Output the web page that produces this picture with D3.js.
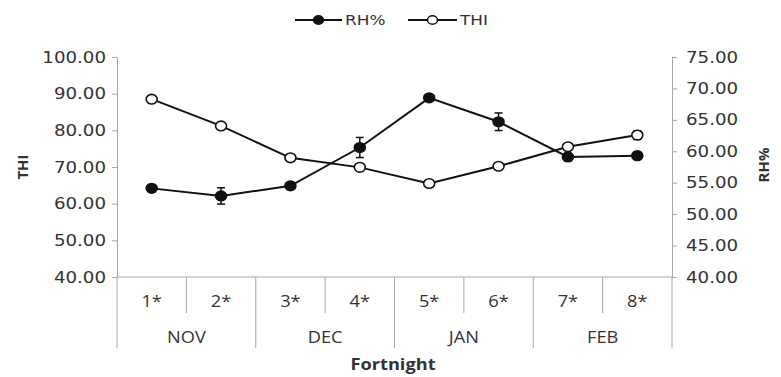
<!DOCTYPE html>
<html>
<head>
<meta charset="utf-8">
<script src="https://cdn.jsdelivr.net/npm/d3@7"></script>
<style>
  body { margin: 0; background: #fff; }
  svg { display: block; }
  text { fill: #333; }
</style>
</head>
<body>
<svg id="chart" width="781" height="377"></svg>
<script>
const fortnights = ["1*", "2*", "3*", "4*", "5*", "6*", "7*", "8*"];
const months = ["NOV", "DEC", "JAN", "FEB"];
const rhValues = [54.1, 52.9, 54.5, 60.6, 68.5, 64.7, 59.1, 59.3];
const rhErrors = [0.3, 1.3, 0.4, 1.6, 0.5, 1.4, 0.6, 0.6];
const thiValues = [88.5, 81.2, 72.5, 69.9, 65.5, 70.2, 75.5, 78.7];
const thiErrors = [0.3, 0.9, 0.3, 0.4, 0.3, 0.4, 0.6, 1.2];
const thiTicks = [40, 50, 60, 70, 80, 90, 100];
const rhTicks = [40, 45, 50, 55, 60, 65, 70, 75];

const plotLeft = 117, plotRight = 672, plotTop = 57, plotBottom = 277;
const stretch = 1.14;
const axisColor = "#a6a6a6";
const numFont = "DejaVu Sans, Verdana, sans-serif";
const labFont = "Open Sans, Liberation Sans, sans-serif";

const svg = d3.select("#chart");

let x = d3.scaleBand().domain(fortnights).range([plotLeft, plotRight]);
let xm = d3.scaleBand().domain(months).range([plotLeft, plotRight]);
let yThi = d3.scaleLinear().domain([40, 100]).range([plotBottom, plotTop]);
let yRh = d3.scaleLinear().domain([40, 75]).range([plotBottom, plotTop]);
let fmt = d3.format(".2f");

// y axes
function styleAxis(g) {
  g.select(".domain").attr("stroke", axisColor);
  g.selectAll(".tick line").attr("stroke", axisColor);
  g.selectAll(".tick text")
    .attr("fill", "#333")
    .style("font-family", numFont)
    .style("font-size", "16px")
    .attr("transform", `scale(${stretch},1)`);
}

svg.append("g")
  .attr("transform", `translate(${plotLeft},0)`)
  .call(d3.axisLeft(yThi).tickValues(thiTicks).tickFormat(fmt).tickSize(5).tickSizeOuter(0).tickPadding(4.6))
  .call(styleAxis);

svg.append("g")
  .attr("transform", `translate(${plotRight},0)`)
  .call(d3.axisRight(yRh).tickValues(rhTicks).tickFormat(fmt).tickSize(5).tickSizeOuter(0).tickPadding(7.3))
  .call(styleAxis);

// category axis: baseline and separators
svg.append("line")
  .attr("x1", plotLeft).attr("x2", plotRight)
  .attr("y1", plotBottom).attr("y2", plotBottom)
  .attr("stroke", axisColor);

let bounds = fortnights.map((f) => x(f)).concat([x.range()[1]]);
bounds.forEach((bx, i) => {
  svg.append("line")
    .attr("x1", bx).attr("x2", bx)
    .attr("y1", plotBottom).attr("y2", i % 2 === 0 ? 348 : 313)
    .attr("stroke", axisColor);
});

function label(px, py, txt, size, bold) {
  return svg.append("text")
    .attr("transform", `translate(${px},${py}) scale(${stretch},1)`)
    .attr("text-anchor", "middle")
    .style("font-family", labFont)
    .style("font-size", size + "px")
    .style("font-weight", bold ? "bold" : "normal")
    .text(txt);
}

fortnights.forEach((d) => label(x(d) + x.bandwidth() / 2, 307, d, 16, false));
months.forEach((d) => label(xm(d) + xm.bandwidth() / 2, 343, d, 16, false));
label(393, 370, "Fortnight", 16, true);

svg.append("text")
  .attr("transform", "translate(28,167) rotate(-90)")
  .attr("text-anchor", "middle")
  .style("font-family", labFont)
  .style("font-size", "15px")
  .style("font-weight", "bold")
  .text("THI");

svg.append("text")
  .attr("transform", "translate(769,165) rotate(-90)")
  .attr("text-anchor", "middle")
  .style("font-family", labFont)
  .style("font-size", "15px")
  .style("font-weight", "bold")
  .text("RH%");

// series
const cx = (i) => x(fortnights[i]) + x.bandwidth() / 2;

function drawSeries(values, errors, y, filled) {
  let line = d3.line().x((d, i) => cx(i)).y((d) => y(d));
  svg.append("path")
    .attr("d", line(values))
    .attr("fill", "none")
    .attr("stroke", "#111")
    .attr("stroke-width", 2);

  let eb = svg.append("g").attr("stroke", "#111").attr("stroke-width", 1.5);
  values.forEach((v, i) => {
    let y1 = y(v - errors[i]), y2 = y(v + errors[i]);
    eb.append("line").attr("x1", cx(i)).attr("x2", cx(i)).attr("y1", y1).attr("y2", y2);
    eb.append("line").attr("x1", cx(i) - 4).attr("x2", cx(i) + 4).attr("y1", y1).attr("y2", y1);
    eb.append("line").attr("x1", cx(i) - 4).attr("x2", cx(i) + 4).attr("y1", y2).attr("y2", y2);
  });

  svg.append("g").selectAll("ellipse")
    .data(values)
    .join("ellipse")
    .attr("cx", (d, i) => cx(i))
    .attr("cy", (d) => y(d))
    .attr("rx", 5.5).attr("ry", 4.8)
    .attr("fill", filled ? "#111" : "#fff")
    .attr("stroke", "#111")
    .attr("stroke-width", 1.6);
}

drawSeries(thiValues, thiErrors, yThi, false);
drawSeries(rhValues, rhErrors, yRh, true);

// legend
const legendItems = [
  { label: "RH%", filled: true, x0: 295, x1: 342 },
  { label: "THI", filled: false, x0: 408, x1: 457 }
];
legendItems.forEach((d) => {
  let g = svg.append("g");
  g.append("line")
    .attr("x1", d.x0).attr("x2", d.x1)
    .attr("y1", 20).attr("y2", 20)
    .attr("stroke", "#111").attr("stroke-width", 2);
  g.append("ellipse")
    .attr("cx", (d.x0 + d.x1) / 2).attr("cy", 20)
    .attr("rx", 5).attr("ry", 4.3)
    .attr("fill", d.filled ? "#111" : "#fff")
    .attr("stroke", "#111").attr("stroke-width", 1.5);
  g.append("text")
    .attr("transform", `translate(${d.x1 + 3},25) scale(1.25,1)`)
    .style("font-family", numFont)
    .style("font-size", "13.5px")
    .text(d.label);
});
</script>
</body>
</html>
